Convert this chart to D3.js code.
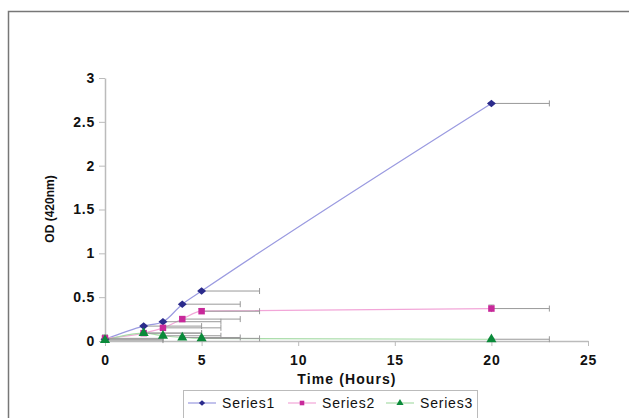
<!DOCTYPE html>
<html><head><meta charset="utf-8">
<script src="https://cdn.jsdelivr.net/npm/d3@7"></script>
<style>
html,body{margin:0;padding:0;background:#fff;overflow:hidden;}
svg{display:block;font-family:"Liberation Sans",Arial,sans-serif;}
</style></head>
<body><svg id="c" width="629" height="418"></svg>
<script>
const hours = [0, 2, 3, 4, 5, 20];
const series1 = [0.02, 0.17, 0.22, 0.42, 0.57, 2.71];
const series2 = [0.03, 0.09, 0.15, 0.25, 0.34, 0.37];
const series3 = [0.01, 0.09, 0.06, 0.04, 0.03, 0.02];
const xErrPlus = [3, 3, 3, 3, 3, 3];
const yErr1 = [0.05, 0.01, 0.01, 0.01, 0.01, 0.01];
const yErr2 = [0.03, 0.01, 0.01, 0.03, 0.03, 0.04];
const yErr3 = [0.01, 0.01, 0.01, 0.01, 0.01, 0.01];
const seriesNames = ["Series1", "Series2", "Series3"];
const xTicks = [0, 5, 10, 15, 20, 25];
const yTicks = [0, 0.5, 1, 1.5, 2, 2.5, 3];

const svg = d3.select("#c");
svg.append("rect").attr("x",8.5).attr("y",11.5).attr("width",640).attr("height",420)
  .attr("fill","none").attr("stroke","#777").attr("stroke-width",1.5);

const x = d3.scaleLinear().domain([0,25]).range([105,588]);
const y = d3.scaleLinear().domain([0,3]).range([341,78]);

const axCol = "#bbbbbb";
const gx = svg.append("g").attr("transform","translate(0,341)")
  .call(d3.axisBottom(x).tickValues(xTicks).tickSize(5).tickSizeOuter(0).tickFormat(d3.format("d")));
const gy = svg.append("g").attr("transform","translate(105,0)")
  .call(d3.axisLeft(y).tickValues(yTicks).tickSize(6).tickSizeOuter(0).tickFormat(d=>String(d)));
[gx,gy].forEach(g=>{
  g.select(".domain").attr("stroke",axCol).attr("stroke-width",1.5);
  g.selectAll(".tick line").attr("stroke",axCol);
  g.selectAll(".tick text").attr("fill","#111").attr("font-size","14px")
    .attr("font-family","'Liberation Sans',Arial,sans-serif").attr("font-weight","bold").style("letter-spacing","0.8px");
});
gx.selectAll(".tick text").attr("dy","0.71em").attr("y",14);
gy.selectAll(".tick text").attr("x",-10);

svg.append("text").attr("x",347).attr("y",384).attr("text-anchor","middle")
  .attr("font-size","14px").attr("font-weight","bold").attr("fill","#111").style("letter-spacing","1.1px").text("Time (Hours)");
svg.append("text").attr("transform","translate(54,209) rotate(-90)").attr("text-anchor","middle")
  .attr("font-size","12px").attr("font-weight","bold").attr("fill","#111").text("OD (420nm)");

const diamond = {draw(ctx,size){const r=Math.sqrt(size)/1.6*1.1, h=r*0.85; ctx.moveTo(0,-h);ctx.lineTo(r,0);ctx.lineTo(0,h);ctx.lineTo(-r,0);ctx.closePath();}};
const defs = [
  {name:seriesNames[0], vals:series1, ye:yErr1, line:"#9a9ae0", mark:"#2b2b8c", sym:diamond, size:42},
  {name:seriesNames[1], vals:series2, ye:yErr2, line:"#f2a6d8", mark:"#c8289a", sym:d3.symbolSquare, size:42},
  {name:seriesNames[2], vals:series3, ye:yErr3, line:"#a8dca8", mark:"#0a8a3a", sym:d3.symbolTriangle, size:44}
];

const errCol = "#999";
const lineGen = d3.line().x(d=>x(d[0])).y(d=>y(d[1])).curve(d3.curveMonotoneX);

defs.forEach(s=>{
  const pts = hours.map((h,i)=>[h,s.vals[i]]);
  svg.append("path").datum(pts).attr("d",lineGen).attr("fill","none")
    .attr("stroke",s.line).attr("stroke-width",1.2);
});
defs.forEach(s=>{
  const g = svg.append("g").attr("stroke",errCol).attr("stroke-width",1).attr("fill","none");
  hours.forEach((h,i)=>{
    const v=s.vals[i], x0=x(h), x1=x(h+xErrPlus[i]), yy=y(v);
    g.append("line").attr("x1",x0).attr("x2",x1).attr("y1",yy).attr("y2",yy);
    g.append("line").attr("x1",x1).attr("x2",x1).attr("y1",yy-3).attr("y2",yy+3);
    const ya=y(v+s.ye[i]), yb=y(Math.max(0,v-s.ye[i]));
    g.append("line").attr("x1",x0).attr("x2",x0).attr("y1",ya).attr("y2",yb);
    g.append("line").attr("x1",x0-3).attr("x2",x0+3).attr("y1",ya).attr("y2",ya);
  });
});
defs.forEach(s=>{
  svg.append("g").selectAll("path").data(hours.map((h,i)=>[h,s.vals[i]])).join("path")
    .attr("transform",d=>`translate(${x(d[0])},${y(d[1])})`)
    .attr("d",d3.symbol().type(s.sym).size(s.size)).attr("fill",s.mark);
});

const lg = svg.append("g");
lg.append("rect").attr("x",183.5).attr("y",390.5).attr("width",294).attr("height",40)
  .attr("fill","#fff").attr("stroke","#bbb");
const lx = [188, 288, 386];
defs.forEach((s,i)=>{
  const g = lg.append("g").attr("transform",`translate(${lx[i]},403)`);
  g.append("line").attr("x1",0).attr("x2",28).attr("stroke",s.line).attr("stroke-width",1.2);
  g.append("path").attr("transform","translate(14,0)").attr("d",d3.symbol().type(s.sym).size(s.size*0.5)).attr("fill",s.mark);
  g.append("text").attr("x",34).attr("y",5).attr("font-size","14px").attr("fill","#111").style("letter-spacing","0.8px").text(s.name);
});
</script></body></html>
